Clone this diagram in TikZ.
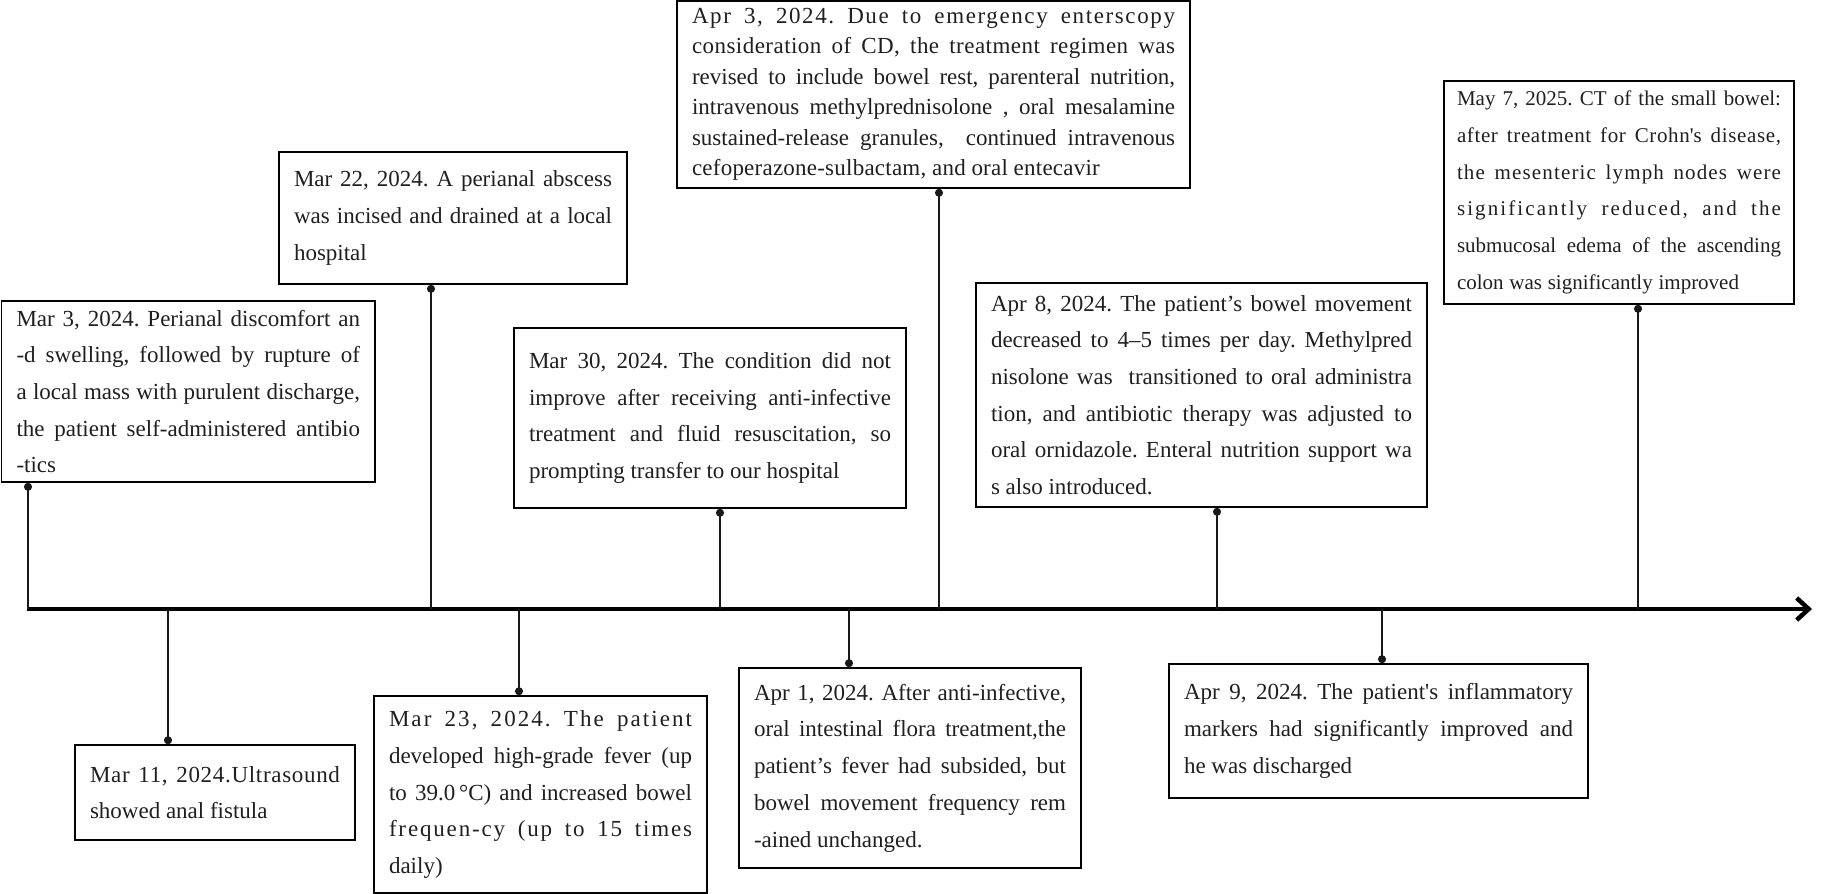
\documentclass[tikz,border=0pt]{standalone}
\usepackage{fontspec}
\setmainfont{Liberation Serif}
\usetikzlibrary{arrows.meta}
\newlength\evw
\newcommand\tlj[1]{\hbox to\evw{#1}}
\newcommand\tlk[2]{\hbox to\evw{\addfontfeature{LetterSpace=#1}#2}}
\newcommand\tll[1]{\hbox{#1}}
\frenchspacing
\begin{document}
\begin{tikzpicture}[x=1pt,y=-1pt,
  evt/.style={draw=black, line width=1.6pt, inner sep=0pt, text=black!88,
    font=\fontsize{23}{36.7}\selectfont\frenchspacing},
  ew/.style={text width=#1, execute at begin node={%
    \setlength{\evw}{#1}\spaceskip=5.75pt plus 30pt minus 1.6pt\relax}},
  conn/.style={draw=black!90, line width=1.6pt, -{Circle[length=8pt]}},
  axisline/.style={draw=black, line width=4.5pt, -{Straight Barb[length=12pt,width=22pt]}}]
\useasboundingbox (0,0) rectangle (1831,894);

% axis
\coordinate (s) at (27,609);
\coordinate (e) at (1812,609);
\draw[axisline] (s) -- (e);

% events above
\node[evt, minimum width=373.5pt, minimum height=181pt, ew=343.5pt] (b1) at (188.25,391.5) {%
\tlj{Mar 3, 2024. Perianal discomfort an}
\tlj{-d swelling, followed by rupture of}
\tlj{a local mass with purulent discharge,}
\tlj{the patient self-administered antibio}
\tll{-tics}};

\node[evt, minimum width=348pt, minimum height=132pt, ew=318pt] (b2) at (453,218) {%
\tlj{Mar 22, 2024. A perianal abscess}
\tlj{was incised and drained at a local}
\tll{hospital}};

\node[evt, minimum width=392pt, minimum height=180pt, ew=362pt] (b3) at (710,418) {%
\tlj{Mar 30, 2024. The condition did not}
\tlj{improve after receiving anti-infective}
\tlj{treatment and fluid resuscitation, so}
\tll{prompting transfer to our hospital}};

\node[evt, minimum width=513pt, minimum height=187pt, ew=483pt,
  font=\fontsize{23}{30.5}\selectfont\frenchspacing] (b4) at (933.5,94.5) {%
\tlk{7}{Apr 3, 2024. Due to emergency enterscopy}
\tlk{2}{consideration of CD, the treatment regimen was}
\tlj{revised to include bowel rest, parenteral nutrition,}
\tlj{intravenous methylprednisolone , oral mesalamine}
\tlj{sustained-release granules,\ \ continued intravenous}
\tll{\addfontfeature{LetterSpace=1}cefoperazone-sulbactam, and oral entecavir}};

\node[evt, minimum width=451pt, minimum height=224pt, ew=421pt] (b5) at (1201.5,395) {%
\tlj{Apr 8, 2024. The patient’s bowel movement}
\tlj{decreased to 4–5 times per day. Methylpred}
\tlj{nisolone was\ \ transitioned to oral administra}
\tlj{tion, and antibiotic therapy was adjusted to}
\tlj{oral ornidazole. Enteral nutrition support wa}
\tll{s also introduced.}};

\node[evt, minimum width=350pt, minimum height=223pt, ew=324pt,
  font=\fontsize{21}{36.7}\selectfont\frenchspacing] (b6) at (1619,192.5) {%
\tlj{May 7, 2025. CT of the small bowel:}
\tlk{3}{after treatment for Crohn\textquotesingle s disease,}
\tlk{5.5}{the mesenteric lymph nodes were}
\tlk{10}{significantly reduced, and the}
\tlj{submucosal edema of the ascending}
\tll{colon was significantly improved}};

% events below
\node[evt, minimum width=280pt, minimum height=95pt, ew=250pt] (b7) at (215,792.5) {%
\tlk{3}{Mar 11, 2024.Ultrasound}
\tll{showed anal fistula}};

\node[evt, minimum width=333pt, minimum height=197pt, ew=303pt] (b8) at (540.5,794.5) {%
\tlk{9}{Mar 23, 2024. The patient}
\tlj{developed high-grade fever (up}
\tlj{to 39.0\,°C) and increased bowel}
\tlk{8}{frequen-cy (up to 15 times}
\tll{daily)}};

\node[evt, minimum width=342pt, minimum height=200pt, ew=312pt] (b9) at (910,768) {%
\tlj{Apr 1, 2024. After anti-infective,}
\tlj{oral intestinal flora treatment,the}
\tlj{patient’s fever had subsided, but}
\tlj{bowel movement frequency rem}
\tll{-ained unchanged.}};

\node[evt, minimum width=419pt, minimum height=134pt, ew=389pt] (b10) at (1378.5,731) {%
\tlj{Apr 9, 2024. The patient\textquotesingle s inflammatory}
\tlj{markers had significantly improved and}
\tll{he was discharged}};

% anchor points on the axis
\coordinate (a1) at (28,609);
\coordinate (a2) at (431,609);
\coordinate (a3) at (720,609);
\coordinate (a4) at (939,609);
\coordinate (a5) at (1217,609);
\coordinate (a6) at (1638,609);
\coordinate (a7) at (168,609);
\coordinate (a8) at (519,609);
\coordinate (a9) at (849,609);
\coordinate (a10) at (1382,609);

\draw[conn] (a1) -- (a1 |- b1.south);
\draw[conn] (a2) -- (a2 |- b2.south);
\draw[conn] (a3) -- (a3 |- b3.south);
\draw[conn] (a4) -- (a4 |- b4.south);
\draw[conn] (a5) -- (a5 |- b5.south);
\draw[conn] (a6) -- (a6 |- b6.south);
\draw[conn] (a7) -- (a7 |- b7.north);
\draw[conn] (a8) -- (a8 |- b8.north);
\draw[conn] (a9) -- (a9 |- b9.north);
\draw[conn] (a10) -- (a10 |- b10.north);
\end{tikzpicture}
\end{document}
